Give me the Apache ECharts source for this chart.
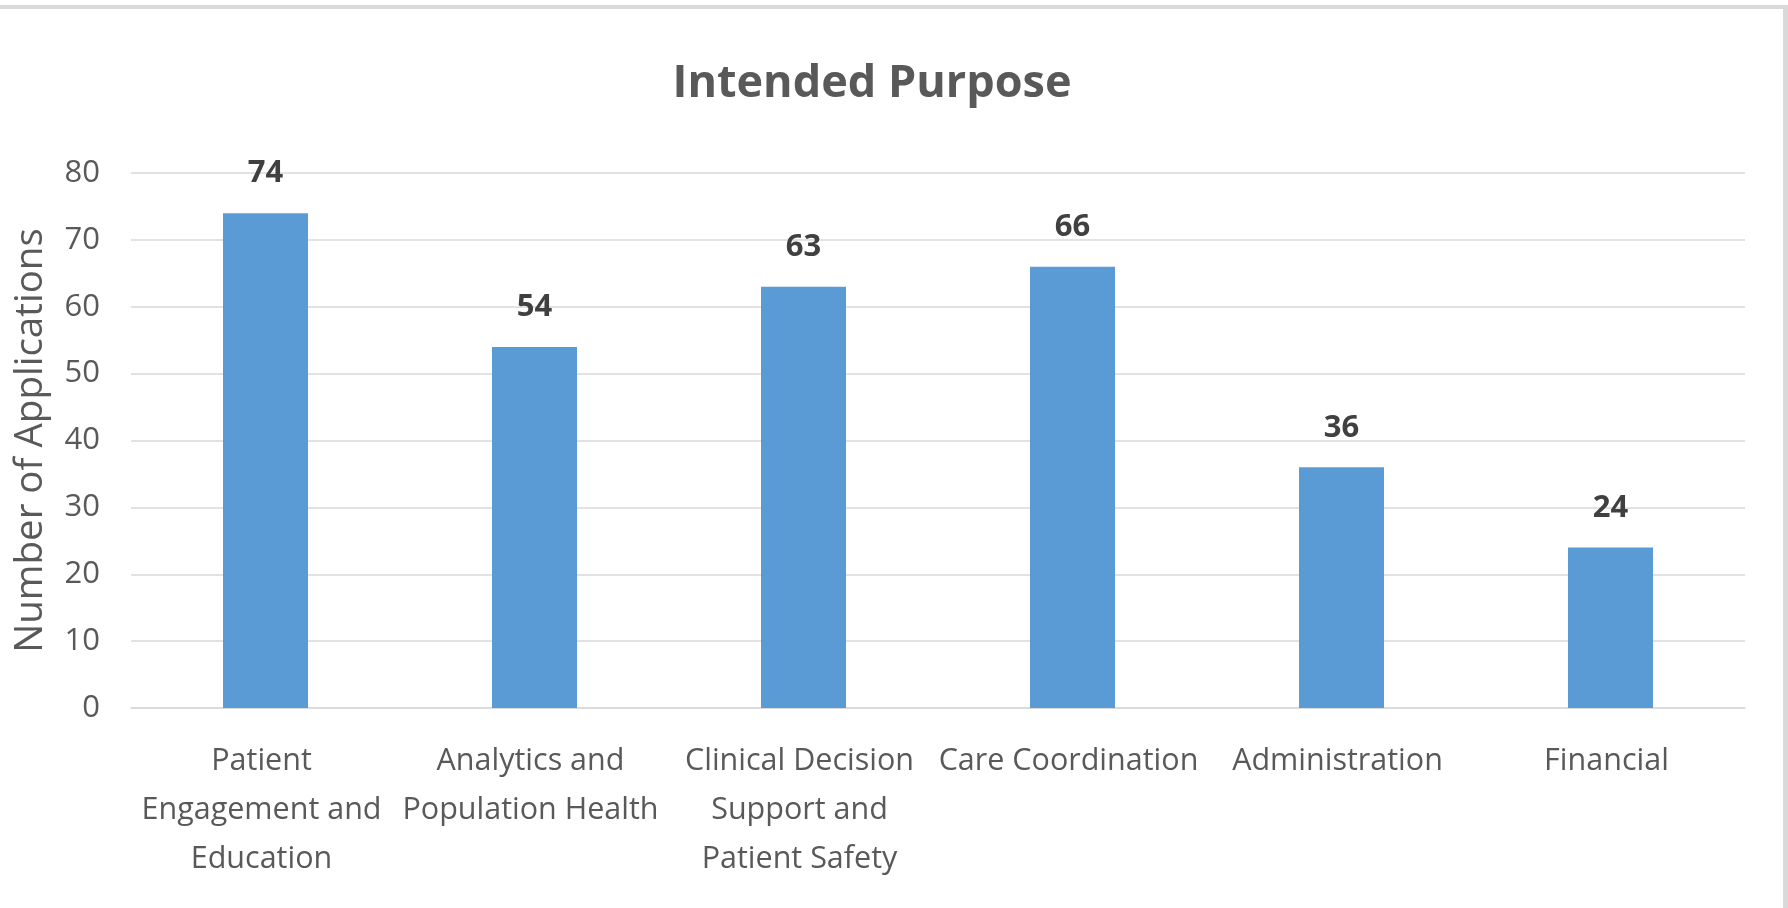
<!DOCTYPE html>
<html>
<head>
<meta charset="utf-8">
<script src="https://cdn.jsdelivr.net/npm/echarts@6/dist/echarts.min.js"></script>
<style>
html,body{margin:0;padding:0;background:#fff;}
#chart{width:1788px;height:908px;}
</style>
</head>
<body>
<div id="chart"></div>
<script>
var titleText = 'Intended Purpose';
var yAxisName = 'Number of Applications';
var categories = [
  'Patient\nEngagement and\nEducation',
  'Analytics and\nPopulation Health',
  'Clinical Decision\nSupport and\nPatient Safety',
  'Care Coordination',
  'Administration',
  'Financial'
];
var values = [74, 54, 63, 66, 36, 24];
var yMin = 0, yMax = 80, yStep = 10;

var FONT = '"Open Sans", "Noto Sans", sans-serif';
var chart = echarts.init(document.getElementById('chart'));
chart.setOption({
  animation: false,
  backgroundColor: '#ffffff',
  title: {
    text: titleText,
    left: 867,
    textAlign: 'center',
    top: 57,
    textStyle: { fontFamily: FONT, fontSize: 45, fontWeight: 'bold', color: '#595959' }
  },
  graphic: [
    { type: 'rect', shape: { x: 0, y: 5, width: 1788, height: 4 }, style: { fill: '#D9D9D9' } },
    { type: 'rect', shape: { x: 1783, y: 5, width: 5, height: 903 }, style: { fill: '#D9D9D9' } }
  ],
  grid: { left: 131, right: 43, top: 173, bottom: 200, containLabel: false },
  xAxis: {
    type: 'category',
    data: categories,
    axisLine: { show: true, lineStyle: { color: '#D9D9D9', width: 1.5 } },
    axisTick: { show: false },
    axisLabel: {
      interval: 0,
      margin: 29,
      fontFamily: FONT,
      fontSize: 30.5,
      lineHeight: 49,
      color: '#595959',
      align: 'center',
      padding: [0, 8, 0, 0]
    }
  },
  yAxis: {
    type: 'value',
    min: yMin,
    max: yMax,
    interval: yStep,
    name: yAxisName,
    nameLocation: 'middle',
    nameGap: 80,
    nameRotate: 90,
    nameTextStyle: { fontFamily: FONT, fontSize: 38.5, color: '#595959' },
    axisLine: { show: false },
    axisTick: { show: false },
    splitLine: { lineStyle: { color: '#D9D9D9', width: 1.5 } },
    axisLabel: { margin: 31, fontFamily: FONT, fontSize: 31, color: '#595959' }
  },
  series: [{
    type: 'bar',
    data: values,
    barWidth: 85,
    itemStyle: { color: '#5B9BD5' },
    label: {
      show: true,
      position: 'top',
      distance: 24,
      fontFamily: FONT,
      fontSize: 31,
      fontWeight: 'bold',
      color: '#404040'
    }
  }]
});
</script>
</body>
</html>
